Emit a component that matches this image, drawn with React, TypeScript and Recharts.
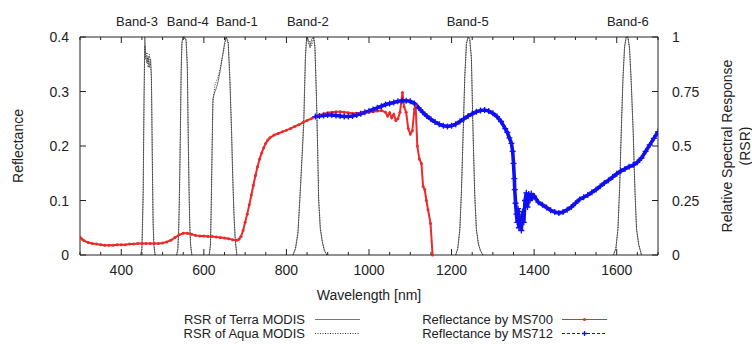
import { ComposedChart, Line, XAxis, YAxis, Label } from "recharts";

const FONT = "'Liberation Sans', Arial, Helvetica, sans-serif";
const INK = "#222";
const RED = "#ec2a2a";
const BLUE = "#1010f0";

// axis ticks
const X_TICKS = [
  300, 350, 400, 450, 500, 550, 600, 650, 700, 750, 800, 850, 900, 950, 1000,
  1050, 1100, 1150, 1200, 1250, 1300, 1350, 1400, 1450, 1500, 1550, 1600, 1650, 1700,
];
const X_LABELS = [400, 600, 800, 1000, 1200, 1400, 1600];
const REFL_TICKS = [0, 0.1, 0.2, 0.3, 0.4];
const RSR_TICKS = [0, 0.25, 0.5, 0.75, 1];

// MODIS band names and where their labels sit (nm)
const BAND_NAMES = ["Band-3", "Band-4", "Band-1", "Band-2", "Band-5", "Band-6"];
const BAND_LABEL_WL = [438, 561, 680, 852, 1239, 1627];

// RSR per band: [wavelength, Terra, Aqua]
const B3: number[][] = [
  [447, 0, 0], [450, 0.03, 0.02], [453, 0.3, 0.25], [455, 0.72, 0.66], [457, 1.0, 0.96],
  [459, 0.92, 0.9], [462, 0.88, 0.93], [465, 0.91, 0.86], [468, 0.86, 0.92], [471, 0.9, 0.87],
  [473, 0.82, 0.8], [475, 0.45, 0.5], [477, 0.14, 0.18], [479, 0.04, 0.05], [482, 0, 0],
];
const B4: number[][] = [
  [534, 0, 0], [537, 0.03, 0.02], [539, 0.12, 0.1], [541, 0.3, 0.27], [543, 0.55, 0.52],
  [545, 0.85, 0.82], [547, 0.98, 0.97], [550, 1.0, 1.0], [554, 1.0, 0.99], [557, 0.98, 0.99],
  [560, 0.85, 0.88], [562, 0.55, 0.6], [564, 0.3, 0.33], [566, 0.12, 0.14], [568, 0.04, 0.05],
  [571, 0, 0],
];
const B1: number[][] = [
  [613, 0, 0], [616, 0.05, 0.04], [618, 0.25, 0.22], [620, 0.5, 0.47], [622, 0.72, 0.7],
  [627, 0.75, 0.78], [631, 0.77, 0.8], [635, 0.8, 0.82], [640, 0.85, 0.86], [645, 0.91, 0.91],
  [650, 0.97, 0.96], [654, 1.0, 1.0], [659, 0.97, 0.98], [663, 0.8, 0.82], [667, 0.57, 0.58],
  [670, 0.35, 0.36], [673, 0.18, 0.19], [676, 0.07, 0.07], [680, 0, 0],
];
const B2: number[][] = [
  [816, 0, 0], [822, 0.03, 0.03], [828, 0.1, 0.11], [833, 0.27, 0.28], [838, 0.45, 0.47],
  [842, 0.6, 0.63], [846, 0.9, 0.92], [849, 1.0, 1.0], [853, 0.99, 0.97], [857, 0.95, 0.98],
  [861, 0.99, 0.96], [866, 1.0, 1.0], [869, 0.95, 0.96], [873, 0.7, 0.72], [876, 0.45, 0.46],
  [878, 0.25, 0.27], [882, 0.12, 0.13], [887, 0.06, 0.06], [892, 0.02, 0.02], [898, 0, 0],
];
const B5: number[][] = [
  [1210, 0, 0], [1215, 0.03, 0.03], [1220, 0.12, 0.11], [1224, 0.3, 0.29], [1228, 0.56, 0.55],
  [1232, 0.82, 0.81], [1236, 0.97, 0.97], [1240, 1.0, 1.0], [1244, 0.99, 0.99], [1248, 0.9, 0.91],
  [1252, 0.56, 0.57], [1256, 0.28, 0.29], [1260, 0.12, 0.12], [1265, 0.05, 0.05],
  [1270, 0.02, 0.02], [1276, 0, 0],
];
const B6: number[][] = [
  [1592, 0, 0], [1598, 0.03, 0.03], [1603, 0.12, 0.12], [1607, 0.3, 0.31], [1611, 0.56, 0.57],
  [1615, 0.8, 0.81], [1619, 0.95, 0.96], [1623, 1.0, 1.0], [1627, 1.0, 1.0], [1631, 0.95, 0.95],
  [1635, 0.8, 0.8], [1640, 0.56, 0.56], [1644, 0.3, 0.31], [1648, 0.12, 0.12], [1653, 0.05, 0.05],
  [1660, 0, 0],
];
const BANDS = [B3, B4, B1, B2, B5, B6];

// reflectance measured by MS700: [wavelength, reflectance]
const MS700: number[][] = [
  [300, 0.033], [305, 0.029], [310, 0.026], [320, 0.023], [330, 0.021], [340, 0.02],
  [350, 0.019], [360, 0.018], [370, 0.018], [380, 0.018], [390, 0.019], [400, 0.019],
  [410, 0.019], [420, 0.02], [430, 0.02], [440, 0.021], [450, 0.021], [460, 0.021],
  [470, 0.021], [480, 0.021], [490, 0.021], [500, 0.022], [510, 0.024], [520, 0.027],
  [530, 0.032], [540, 0.037], [550, 0.04], [560, 0.04], [570, 0.038], [580, 0.036],
  [590, 0.035], [600, 0.035], [610, 0.034], [620, 0.034], [630, 0.033], [640, 0.032],
  [650, 0.031], [660, 0.03], [670, 0.028], [680, 0.027], [685, 0.029], [690, 0.034],
  [695, 0.045], [700, 0.06], [705, 0.075], [710, 0.092], [715, 0.11], [720, 0.128],
  [725, 0.146], [730, 0.162], [735, 0.176], [740, 0.187], [745, 0.197], [750, 0.205],
  [755, 0.211], [760, 0.215], [770, 0.22], [780, 0.223], [790, 0.226], [800, 0.229],
  [810, 0.232], [820, 0.236], [830, 0.239], [840, 0.243], [850, 0.247], [860, 0.25],
  [870, 0.254], [880, 0.257], [890, 0.259], [900, 0.261], [910, 0.262], [920, 0.263],
  [930, 0.263], [940, 0.262], [950, 0.261], [960, 0.26], [970, 0.26], [980, 0.261],
  [990, 0.262], [1000, 0.263], [1010, 0.263], [1020, 0.264], [1030, 0.265], [1040, 0.262],
  [1045, 0.255], [1050, 0.261], [1055, 0.252], [1060, 0.258], [1065, 0.247], [1070, 0.25],
  [1075, 0.262], [1081, 0.298], [1085, 0.272], [1090, 0.262], [1095, 0.232], [1100, 0.222],
  [1105, 0.228], [1110, 0.268], [1113, 0.274], [1117, 0.2], [1122, 0.176], [1127, 0.168],
  [1131, 0.126], [1135, 0.12], [1139, 0.1], [1143, 0.083], [1149, 0.058], [1154, 0],
];

// reflectance measured by MS712: [wavelength, reflectance]
const MS712: number[][] = [
  [870, 0.254], [880, 0.255], [890, 0.256], [900, 0.257], [910, 0.257], [920, 0.256],
  [930, 0.255], [940, 0.254], [950, 0.254], [960, 0.255], [970, 0.257], [980, 0.259],
  [990, 0.262], [1000, 0.264], [1010, 0.267], [1020, 0.27], [1030, 0.273], [1040, 0.276],
  [1050, 0.278], [1060, 0.28], [1070, 0.282], [1080, 0.283], [1090, 0.283], [1100, 0.282],
  [1110, 0.278], [1120, 0.27], [1130, 0.262], [1140, 0.255], [1150, 0.249], [1160, 0.244],
  [1170, 0.24], [1180, 0.237], [1190, 0.236], [1200, 0.237], [1210, 0.24], [1220, 0.245],
  [1230, 0.25], [1240, 0.255], [1250, 0.259], [1260, 0.263], [1270, 0.265], [1280, 0.266],
  [1290, 0.264], [1300, 0.26], [1310, 0.254], [1320, 0.245], [1330, 0.232], [1335, 0.225],
  [1340, 0.215], [1345, 0.205], [1348, 0.19], [1350, 0.168], [1352, 0.14], [1353, 0.12],
  [1355, 0.095], [1357, 0.075], [1359, 0.06], [1361, 0.085], [1363, 0.05], [1366, 0.07],
  [1369, 0.045], [1372, 0.08], [1375, 0.06], [1378, 0.1], [1381, 0.114], [1384, 0.088],
  [1387, 0.112], [1390, 0.1], [1393, 0.113], [1396, 0.105], [1400, 0.108], [1410, 0.097],
  [1420, 0.092], [1430, 0.087], [1440, 0.082], [1450, 0.079], [1460, 0.077], [1470, 0.079],
  [1480, 0.083], [1490, 0.088], [1500, 0.095], [1510, 0.102], [1520, 0.106], [1530, 0.11],
  [1540, 0.115], [1550, 0.12], [1560, 0.126], [1570, 0.132], [1580, 0.137], [1590, 0.143],
  [1600, 0.149], [1610, 0.154], [1620, 0.158], [1630, 0.162], [1640, 0.165], [1650, 0.17],
  [1660, 0.178], [1670, 0.19], [1680, 0.202], [1690, 0.214], [1700, 0.226],
];

const LEGEND_LEFT = ["RSR of Terra MODIS", "RSR of Aqua MODIS"];
const LEGEND_RIGHT = ["Reflectance by MS700", "Reflectance by MS712"];

const ms700Data = MS700.map(([wl, r]) => ({ wl, r }));
const ms712Data = MS712.map(([wl, r]) => ({ wl, r }));
const bandData = BANDS.map((b) => b.map(([wl, terra, aqua]) => ({ wl, terra, aqua })));
const topTicks = [...X_TICKS, ...BAND_LABEL_WL].sort((a, b) => a - b);

const textStyle = { fontFamily: FONT, fontSize: 14, fill: INK };
const legendStyle = { ...textStyle, fontSize: 13 };

function BottomTick({ x, y, payload }: any) {
  const v = payload.value;
  const major = v % 200 === 0;
  return (
    <g>
      <line x1={x} x2={x} y1={y} y2={y - (major ? 6 : 3)} stroke={INK} />
      {X_LABELS.includes(v) && (
        <text x={x} y={y + 20} textAnchor="middle" style={textStyle}>
          {v}
        </text>
      )}
    </g>
  );
}

function TopTick({ x, y, payload }: any) {
  const v = payload.value;
  const i = BAND_LABEL_WL.indexOf(v);
  if (i >= 0) {
    return (
      <text x={x} y={y - 11} textAnchor="middle" style={{ ...textStyle, fontSize: 13 }}>
        {BAND_NAMES[i]}
      </text>
    );
  }
  const major = v % 200 === 0;
  return <line x1={x} x2={x} y1={y} y2={y + (major ? 6 : 3)} stroke={INK} />;
}

function LeftTick({ x, y, payload }: any) {
  return (
    <g>
      <line x1={x} x2={x + 6} y1={y} y2={y} stroke={INK} />
      <text x={x - 11} y={y + 5} textAnchor="end" style={textStyle}>
        {payload.value}
      </text>
    </g>
  );
}

function RightTick({ x, y, payload }: any) {
  return (
    <g>
      <line x1={x} x2={x - 6} y1={y} y2={y} stroke={INK} />
      <text x={x + 14} y={y + 5} textAnchor="start" style={textStyle}>
        {payload.value}
      </text>
    </g>
  );
}

function PlusDot({ cx, cy, size = 3 }: any) {
  if (cx == null || cy == null) return null;
  const s = size;
  return (
    <path
      d={`M${cx - s},${cy}H${cx + s}M${cx},${cy - s}V${cy + s}`}
      stroke={BLUE}
      strokeWidth={1.3}
      fill="none"
    />
  );
}

export default function App() {
  return (
    <div style={{ position: "absolute", left: 0, top: 0, width: 752, height: 344, background: "#fff" }}>
      <ComposedChart width={752} height={344} margin={{ top: 7, right: 0, bottom: 44, left: 0 }}>
        <XAxis
          xAxisId="b"
          type="number"
          dataKey="wl"
          domain={[300, 1700]}
          allowDataOverflow
          ticks={X_TICKS}
          interval={0}
          height={45}
          tickSize={0}
          tickMargin={0}
          tickLine={false}
          tick={<BottomTick />}
          axisLine={{ stroke: INK }}
        >
          <Label value="Wavelength [nm]" position="insideBottom" offset={0} style={textStyle} />
        </XAxis>
        <XAxis
          xAxisId="t"
          orientation="top"
          type="number"
          dataKey="wl"
          domain={[300, 1700]}
          allowDataOverflow
          ticks={topTicks}
          interval={0}
          height={30}
          tickSize={0}
          tickMargin={0}
          tickLine={false}
          tick={<TopTick />}
          axisLine={{ stroke: INK }}
        />
        <YAxis
          yAxisId="refl"
          type="number"
          domain={[0, 0.4]}
          ticks={REFL_TICKS}
          interval={0}
          width={80}
          tickSize={0}
          tickMargin={0}
          tickLine={false}
          tick={<LeftTick />}
          axisLine={{ stroke: INK }}
        >
          <Label
            value="Reflectance"
            angle={-90}
            position="insideLeft"
            offset={18}
            style={{ ...textStyle, textAnchor: "middle" }}
          />
        </YAxis>
        <YAxis
          yAxisId="rsr"
          orientation="right"
          type="number"
          domain={[0, 1]}
          ticks={RSR_TICKS}
          interval={0}
          width={94}
          tickSize={0}
          tickMargin={0}
          tickLine={false}
          tick={<RightTick />}
          axisLine={{ stroke: INK }}
        >
          <Label
            value="Relative Spectral Response"
            angle={-90}
            position="insideRight"
            offset={25}
            style={{ ...textStyle, textAnchor: "middle" }}
          />
          <Label
            value="(RSR)"
            angle={-90}
            position="insideRight"
            offset={7}
            style={{ ...textStyle, textAnchor: "middle" }}
          />
        </YAxis>

        {bandData.map((d, i) => (
          <Line
            key={`terra-${i}`}
            data={d}
            dataKey="terra"
            xAxisId="b"
            yAxisId="rsr"
            stroke="#777"
            strokeWidth={1}
            dot={false}
            isAnimationActive={false}
          />
        ))}
        {bandData.map((d, i) => (
          <Line
            key={`aqua-${i}`}
            data={d}
            dataKey="aqua"
            xAxisId="b"
            yAxisId="rsr"
            stroke="#333"
            strokeWidth={1}
            strokeDasharray="1 1.5"
            dot={false}
            isAnimationActive={false}
          />
        ))}
        <Line
          data={ms700Data}
          dataKey="r"
          xAxisId="b"
          yAxisId="refl"
          stroke={RED}
          strokeWidth={2}
          dot={{ r: 1.5, fill: RED, stroke: "none" }}
          isAnimationActive={false}
        />
        <Line
          data={ms712Data}
          dataKey="r"
          xAxisId="b"
          yAxisId="refl"
          stroke={BLUE}
          strokeWidth={3.6}
          dot={(p: any) => <PlusDot key={`p-${p.index}`} cx={p.cx} cy={p.cy} />}
          isAnimationActive={false}
        />
      </ComposedChart>

      <svg
        width={752}
        height={344}
        style={{ position: "absolute", left: 0, top: 0, pointerEvents: "none" }}
      >
        {LEGEND_LEFT.map((t, i) => (
          <g key={t}>
            <text x={305} y={324 + i * 14} textAnchor="end" style={legendStyle}>
              {t}
            </text>
            <line
              x1={315}
              x2={360}
              y1={319.5 + i * 14}
              y2={319.5 + i * 14}
              stroke={i === 0 ? "#777" : "#333"}
              strokeDasharray={i === 0 ? undefined : "1 1.5"}
            />
          </g>
        ))}
        {LEGEND_RIGHT.map((t, i) => (
          <g key={t}>
            <text x={553} y={324 + i * 14} textAnchor="end" style={legendStyle}>
              {t}
            </text>
            <line
              x1={562}
              x2={607}
              y1={319.5 + i * 14}
              y2={319.5 + i * 14}
              stroke={i === 0 ? RED : BLUE}
              strokeDasharray={i === 0 ? undefined : "3 2"}
            />
            {i === 0 ? (
              <circle cx={584.5} cy={319.5} r={1.6} fill={RED} />
            ) : (
              <PlusDot cx={584.5} cy={333.5} size={2.5} />
            )}
          </g>
        ))}
      </svg>
    </div>
  );
}
